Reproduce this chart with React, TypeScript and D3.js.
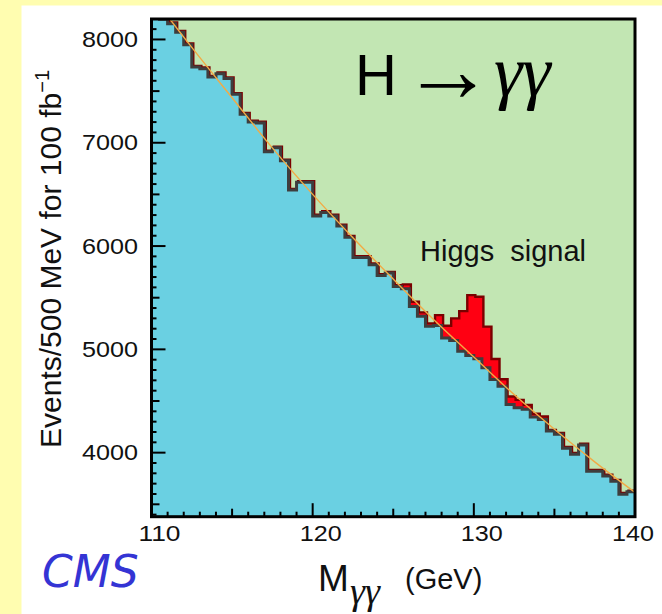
import React from 'react';
import * as d3 from 'd3';

// ---- data ----
const massDomain = [110, 140];
const eventsDomain = [3380, 8198];
const binWidth = 0.5;
// background-only histogram, events per 0.5 GeV bin, 110 -> 140 GeV
const background = [
  8260, 8195, 8152, 8070, 7949, 7733, 7717, 7636, 7669, 7621,
  7469, 7276, 7202, 7192, 6912, 6951, 6825, 6542, 6617, 6617,
  6291, 6325, 6291, 6195, 6086, 5889, 5889, 5819, 5715, 5738,
  5609, 5587, 5416, 5320, 5223, 5230, 5111, 5085, 4982, 4940,
  4908, 4821, 4708, 4644, 4467, 4435, 4419, 4345, 4322, 4209,
  4178, 4043, 3985, 4074, 3820, 3820, 3775, 3724, 3598, 3621,
];
// Higgs signal on top of the background
const signal = [
  0, 0, 0, 0, 0, 0, 0, 0, 0, 0,
  0, 0, 0, 0, 0, 0, 0, 0, 0, 0,
  0, 0, 0, 0, 0, 0, 0, 0, 0, 0,
  0, 30, 33, 26, 17, 90, 106, 203, 376, 573,
  589, 387, 187, 55, 65, 64, 32, 20, 17, 0,
  0, 0, 0, 0, 0, 0, 0, 0, 0, 0,
];
// smooth background fit
const fitMass = [110, 112.5, 115, 117.5, 120, 122.5, 125, 127.5, 130, 132.5, 135, 137.5, 140];
const fitEvents = [8428, 7923, 7436, 6950, 6500, 6080, 5680, 5290, 4925, 4562, 4227, 3911, 3615];
const xTickLabels = [110, 120, 130, 140];
const yTickLabels = [4000, 5000, 6000, 7000, 8000];

const C = {
  page: '#FFFDB0',
  panel: '#FFFFFF',
  plot: '#C2E6B3',
  blue: '#6AD0E2',
  gray: '#3E3E3E',
  red: '#FF0012',
  darkRed: '#7A0000',
  fit: '#F2AA45',
  cms: '#3434D4',
};

export default function App() {
  const W = 662, H = 614;
  const L = 151.5, R = 635, T = 19, B = 516.7;
  const x = d3.scaleLinear().domain(massDomain).range([L, R]);
  const y = d3.scaleLinear().domain(eventsDomain).range([B, T]);

  const bins = background.map((b, i) => ({
    lo: massDomain[0] + i * binWidth,
    hi: massDomain[0] + (i + 1) * binWidth,
    b,
    t: b + signal[i],
  }));
  const steps = (key: 'b' | 't') => {
    const pts: [number, number][] = [];
    bins.forEach((d) => {
      pts.push([x(d.lo), y(d[key])]);
      pts.push([x(d.hi), y(d[key])]);
    });
    return pts;
  };
  const lineGen = d3.line<[number, number]>();
  const areaGen = d3.area<[number, number]>().x((p) => p[0]).y0(B + 5).y1((p) => p[1]);
  const bgPts = steps('b');
  const totPts = steps('t');

  const fitLine = d3
    .line<number>()
    .x((_, i) => x(fitMass[i]))
    .y((v) => y(v))
    .curve(d3.curveMonotoneX)(fitEvents);

  const yTicks = d3.range(3400, 8200, 100);
  const xTicks = d3.range(110, 141, 1);

  const font = '"Liberation Sans", Arial, sans-serif';
  const serif = '"Liberation Serif", "Times New Roman", serif';

  return (
    <svg width={W} height={H} style={{ position: 'absolute', left: 0, top: 0 }}>
      <defs>
        <clipPath id="plotclip">
          <rect x={L} y={T} width={R - L} height={B - T} />
        </clipPath>
      </defs>
      <rect x={0} y={0} width={W} height={H} fill={C.page} />
      <rect x={21.5} y={5.5} width={W - 21.5} height={H - 5.5} fill={C.panel} />
      <rect x={L} y={T} width={R - L} height={B - T} fill={C.plot} />

      <g clipPath="url(#plotclip)">
        <g transform="translate(1.5,-1.2)">
          <path d={areaGen(totPts) || ''} fill={C.red} />
          <path d={lineGen(totPts) || ''} fill="none" stroke={C.darkRed} strokeWidth={2.4} />
        </g>
        <path d={areaGen(bgPts) || ''} fill={C.blue} />
        <path d={lineGen(bgPts) || ''} fill="none" stroke={C.gray} strokeWidth={3} />
        <path d={fitLine || ''} fill="none" stroke={C.fit} strokeWidth={1.4} />
      </g>

      {/* ticks */}
      {yTicks.map((v) => {
        const len = v % 1000 === 0 ? 14 : v % 500 === 0 ? 8 : 5;
        return <line key={'yt' + v} x1={L} x2={L + len} y1={y(v)} y2={y(v)} stroke="#000" strokeWidth={2} />;
      })}
      {xTicks.map((m) => {
        const len = m % 10 === 0 ? 13.5 : m % 5 === 0 ? 8 : 5;
        return <line key={'xt' + m} x1={x(m)} x2={x(m)} y1={B} y2={B - len} stroke="#000" strokeWidth={2} />;
      })}
      <rect x={L} y={T} width={R - L} height={B - T} fill="none" stroke="#000" strokeWidth={3} />

      {/* tick labels */}
      {yTickLabels.map((v) => (
        <text key={'yl' + v} x={138} y={y(v) + 7.5} textAnchor="end" fontFamily={font} fontSize={22.5}
          textLength={56} lengthAdjust="spacingAndGlyphs" fill="#111">{v}</text>
      ))}
      {xTickLabels.map((m) => (
        <text key={'xl' + m} x={Math.min(x(m) + 8, 633)} y={541} textAnchor="middle" fontFamily={font} fontSize={22.5}
          textLength={42} lengthAdjust="spacingAndGlyphs" fill="#111">{m}</text>
      ))}

      {/* axis titles */}
      <text transform="translate(60.5,448) rotate(-90)" fontFamily={font} fontSize={30} fill="#111">
        Events/500 MeV for 100 fb<tspan fontSize={20} dy={-12}>−1</tspan>
      </text>
      <text x={318} y={591} fontFamily={font} fontSize={37} fill="#111">M</text>
      <text x={350} y={604} fontFamily={serif} fontStyle="italic" fontSize={38} fill="#111">γγ</text>
      <text x={405} y={589} fontFamily={font} fontSize={29} fill="#111">(GeV)</text>

      {/* annotations */}
      <text x={355} y={95} fontFamily={font} fontSize={58} fill="#000">H</text>
      <text x={402} y={101} fontFamily={serif} fontSize={92} fill="#000">→</text>
      <text x={494} y={96} fontFamily={serif} fontStyle="italic" fontSize={72} fill="#000">γγ</text>
      <text x={420} y={261} fontFamily={font} fontSize={29} fill="#111">{'Higgs\u00A0\u00A0signal'}</text>
      <text x={42} y={587} fontFamily='"DejaVu Sans", sans-serif' fontStyle="italic" fontSize={44} fill={C.cms}>CMS</text>
    </svg>
  );
}
